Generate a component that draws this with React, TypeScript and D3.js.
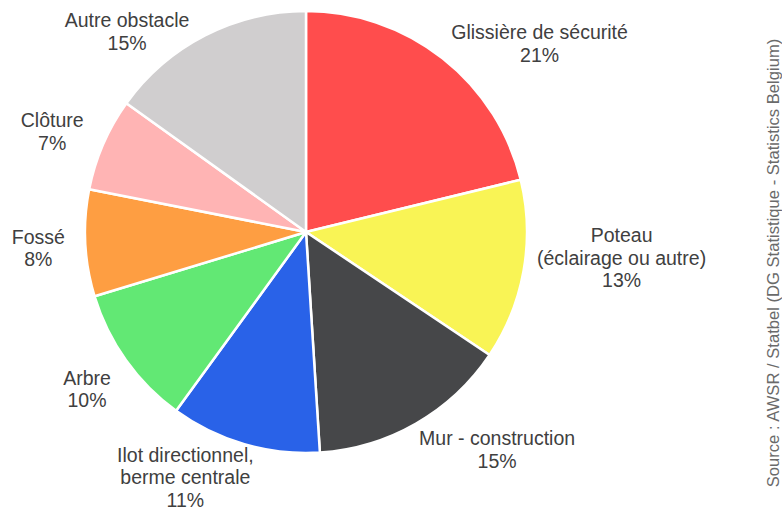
import React from "react";
import * as d3 from "d3";

const categories = [
  "Glissière de sécurité",
  "Poteau\n(éclairage ou autre)",
  "Mur - construction",
  "Ilot directionnel,\nberme centrale",
  "Arbre",
  "Fossé",
  "Clôture",
  "Autre obstacle",
];
const values = [21.2, 13.2, 14.6, 11.0, 10.3, 7.8, 6.8, 15.1];
const percentLabels = ["21%", "13%", "15%", "11%", "10%", "8%", "7%", "15%"];
const colors = ["#FF4D4D", "#F9F455", "#464749", "#2962E8", "#62E874", "#FE9E42", "#FFB4B4", "#D0CECF"];
// label block centre offset from the arc's outer point at mid-angle
const labelNudge: [number, number][] = [
  [97, -15],
  [98, -13],
  [81, 26],
  [-59, 33],
  [-39, 29],
  [-47, 5],
  [-51, -13],
  [-78, -4],
];
const sourceText = "Source : AWSR / Statbel (DG Statistique - Statistics Belgium)";

const W = 782;
const H = 510;
const cx = 306;
const cy = 232;
const R = 221;
const FS = 19.5;
const LH = 22.5;

export default function App() {
  const pie = d3
    .pie<number>()
    .sort(null)
    .value((d) => d)
    .startAngle(0)
    .endAngle(2 * Math.PI);
  const arcs = pie(values);
  const arcGen = d3.arc<d3.PieArcDatum<number>>().innerRadius(0).outerRadius(R);

  return (
    <svg
      width={W}
      height={H}
      style={{ position: "absolute", left: 0, top: 0, background: "#fff" }}
      fontFamily="'Liberation Sans', Arial, sans-serif"
    >
      <g transform={`translate(${cx},${cy})`}>
        {arcs.map((a, i) => (
          <path key={i} d={arcGen(a) || ""} fill={colors[i]} stroke="#fff" strokeWidth={2.5} strokeLinejoin="round" />
        ))}
        {arcs.map((a, i) => {
          const mid = (a.startAngle + a.endAngle) / 2;
          const px = Math.sin(mid) * R + labelNudge[i][0];
          const py = -Math.cos(mid) * R + labelNudge[i][1];
          const lines = [...categories[i].split("\n"), percentLabels[i]];
          const n = lines.length;
          return (
            <text key={`l${i}`} textAnchor="middle" fontSize={FS} fill="#404040">
              {lines.map((ln, j) => (
                <tspan key={j} x={px} y={py + (j - (n - 1) / 2) * LH} dy="0.36em">
                  {ln}
                </tspan>
              ))}
            </text>
          );
        })}
      </g>
      <text
        transform={`translate(773,263) rotate(-90)`}
        textAnchor="middle"
        dy="0.35em"
        fontSize={16.6}
        fill="#6a6a6a"
      >
        {sourceText}
      </text>
    </svg>
  );
}
